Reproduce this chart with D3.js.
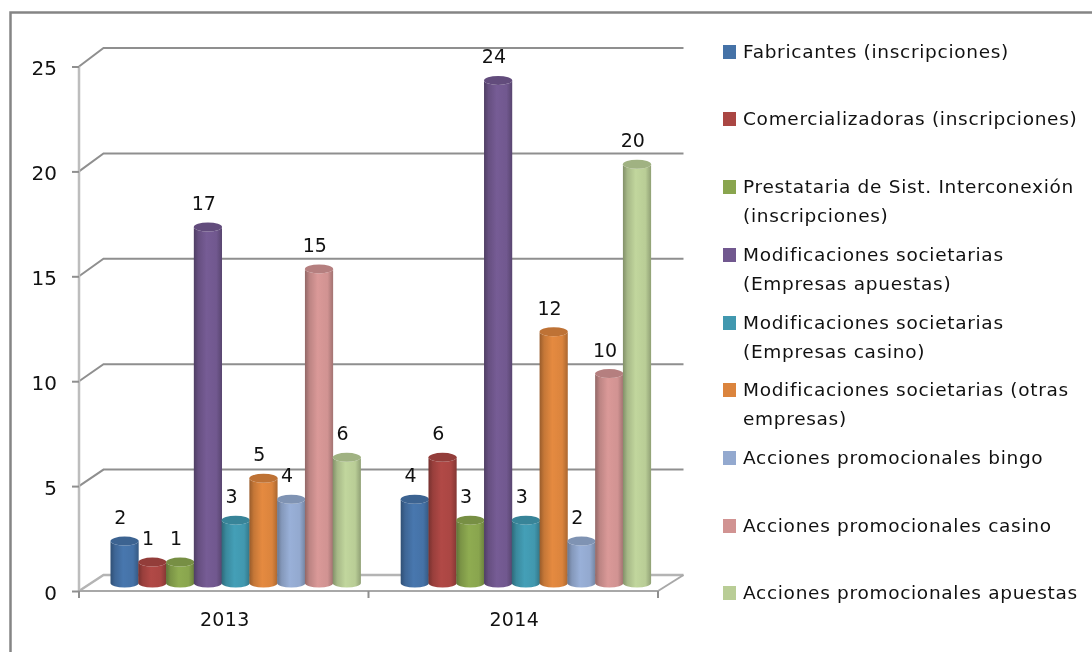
<!DOCTYPE html>
<html><head><meta charset="utf-8">
<script src="https://cdn.jsdelivr.net/npm/d3@7/dist/d3.min.js"></script>
<style>html,body{margin:0;padding:0;background:#fff}svg{display:block;filter:blur(.45px)}text{font-family:"DejaVu Sans",sans-serif;fill:#111}</style>
</head><body><svg id="c" width="1092" height="652"></svg>
<script>
const categories = ["2013","2014"];
const seriesNames = [
 ["Fabricantes (inscripciones)"],
 ["Comercializadoras (inscripciones)"],
 ["Prestataria de Sist. Interconexión","(inscripciones)"],
 ["Modificaciones societarias","(Empresas apuestas)"],
 ["Modificaciones societarias","(Empresas casino)"],
 ["Modificaciones societarias (otras","empresas)"],
 ["Acciones promocionales bingo"],
 ["Acciones promocionales casino"],
 ["Acciones promocionales apuestas"]];
const values2013 = [2,1,1,17,3,5,4,15,6];
const values2014 = [4,6,3,24,3,12,2,10,20];
const colors = ["#4572A7","#AA4643","#89A54E","#71588F","#4198AF","#DB843D","#93A9CF","#D19392","#B9CD96"];
const yTicks = [0,5,10,15,20,25];

const svg = d3.select("#c");
const defs = svg.append("defs");
colors.forEach((c,i)=>{
  const d=d3.color(c);
  const g=defs.append("linearGradient").attr("id","g"+i);
  [[0,d.darker(1.0)],[.16,d.darker(.3)],[.45,d.brighter(.12)],[.8,d],[1,d.darker(.7)]]
    .forEach(([o,k])=>g.append("stop").attr("offset",o).attr("stop-color",k));
});

// frame
svg.append("path").attr("d","M10.5,653V12.5H1093").attr("fill","none").attr("stroke","#858585").attr("stroke-width",2.5);

const yFront=d3.scaleLinear().domain([0,25]).range([591,66.5]);
const yBack=d3.scaleLinear().domain([0,25]).range([575,48]);
const yBar=d3.scaleLinear().domain([0,25]).range([583,59.5]);
const xFront=d3.scaleBand().domain(categories).range([79,658]);
const depth=24.5;
const grid="#8f8f8f";

// floor + gridlines
yTicks.forEach(t=>{
  svg.append("path").attr("fill","none").attr("stroke",t===0?"#b4b4b4":grid).attr("stroke-width",t===0?2.5:2)
    .attr("d",`M79,${yFront(t)}L${79+depth},${yBack(t)}H${658+depth+1}`);
});
svg.append("path").attr("fill","none").attr("stroke","#a8a8a8").attr("stroke-width",2)
  .attr("d",`M658,${yFront(0)}L${658+depth+1},${yBack(0)}`);

// axes
const ax=svg.append("g").attr("transform","translate(79,0)").call(d3.axisLeft(yFront).tickValues(yTicks).tickSize(7).tickPadding(15));
ax.select(".domain").attr("stroke","#bdbdbd").attr("stroke-width",2.5).attr("d",`M0,${yFront(25)}V${yFront(0)}`);
ax.selectAll(".tick line").attr("stroke",grid).attr("stroke-width",2);
ax.selectAll("text").style("font-size","20px").style("font-family","'DejaVu Sans'").attr("fill","#111").attr("dy","0.42em");

const bx=svg.append("g").attr("transform",`translate(1,${yFront(0)})`).call(d3.axisBottom(xFront).tickSize(0).tickPadding(22));
bx.select(".domain").attr("stroke","#a8a8a8").attr("stroke-width",2).attr("d","M78,0H657");
bx.selectAll("text").style("font-size","19px").style("font-family","'DejaVu Sans'").style("letter-spacing","0.3px").attr("fill","#111");
svg.append("g").selectAll("line").data([79,(79+658)/2,658]).join("line")
  .attr("x1",d=>d).attr("x2",d=>d).attr("y1",yFront(0)).attr("y2",yFront(0)+7).attr("stroke",grid).attr("stroke-width",2);

// cylinders
const catOffset={ "2013":31.5, "2014":32.2 };
const table=[values2013,values2014];
const xInner=d3.scaleBand().domain(d3.range(9)).range([0,250]);
const ry=4.5;
categories.forEach((cat,ci)=>{
  const g=svg.append("g");
  table[ci].forEach((v,i)=>{
    const x0=xFront(cat)+catOffset[cat]+xInner(i), w=xInner.bandwidth()+.4, x1=x0+w, rx=w/2, top=yBar(v), base=yBar(0);
    g.append("path").attr("fill",`url(#g${i})`)
      .attr("d",`M${x0},${top}V${base}A${rx},${ry} 0 0 0 ${x1},${base}V${top}A${rx},${ry} 0 0 1 ${x0},${top}Z`);
    g.append("ellipse").attr("cx",x0+rx).attr("cy",top).attr("rx",rx).attr("ry",ry)
      .attr("fill",d3.color(colors[i]).darker(.4));
  });
});
categories.forEach((cat,ci)=>{
  table[ci].forEach((v,i)=>{
    svg.append("text").attr("x",xFront(cat)+catOffset[cat]+xInner(i)+xInner.bandwidth()/2-4).attr("y",yBar(v)-17)
      .attr("text-anchor","middle").style("font-size","19px").text(v);
  });
});

// legend
const legendY=[52,119,187,255,323,390,458,526,593];
const lg=svg.append("g");
seriesNames.forEach((lines,i)=>{
  lg.append("rect").attr("x",723).attr("y",legendY[i]-7).attr("width",13).attr("height",14).attr("fill",colors[i]);
  lines.forEach((l,j)=>lg.append("text").attr("x",743).attr("y",legendY[i]+6+j*29).style("font-size","18.5px").style("letter-spacing","0.7px").text(l));
});
</script></body></html>
